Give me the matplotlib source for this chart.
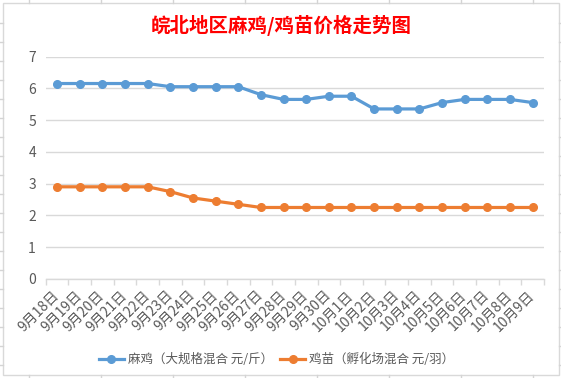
import matplotlib
matplotlib.use("Agg")
import matplotlib.pyplot as plt
from matplotlib.lines import Line2D
from matplotlib.patches import Rectangle

plt.rcParams['font.family'] = ['Noto Sans CJK SC', 'DejaVu Sans']

title = "皖北地区麻鸡/鸡苗价格走势图"
dates = ["9月18日", "9月19日", "9月20日", "9月21日", "9月22日", "9月23日", "9月24日",
         "9月25日", "9月26日", "9月27日", "9月28日", "9月29日", "9月30日", "10月1日",
         "10月2日", "10月3日", "10月4日", "10月5日", "10月6日", "10月7日", "10月8日", "10月9日"]
majiu = [6.15, 6.15, 6.15, 6.15, 6.15, 6.05, 6.05, 6.05, 6.05, 5.8, 5.65,
         5.65, 5.75, 5.75, 5.35, 5.35, 5.35, 5.55, 5.65, 5.65, 5.65, 5.55]
jimiao = [2.9, 2.9, 2.9, 2.9, 2.9, 2.75, 2.55, 2.45, 2.35, 2.25, 2.25,
          2.25, 2.25, 2.25, 2.25, 2.25, 2.25, 2.25, 2.25, 2.25, 2.25, 2.25]
series_names = ["麻鸡（大规格混合 元/斤）", "鸡苗（孵化场混合 元/羽）"]
yticks = [0, 1, 2, 3, 4, 5, 6, 7]

W, H = 561, 378
fig = plt.figure(figsize=(W / 100, H / 100), dpi=100)
fig.patch.set_facecolor("white")

# spreadsheet gridline stubs outside the chart box
sc = "#d4d4d4"
for k in range(8):
    x = (28.6 + 72 * k) / W
    fig.add_artist(Line2D([x, x], [1, 1 - 3 / H], color=sc, lw=1))
    fig.add_artist(Line2D([x, x], [0, 3 / H], color=sc, lw=1))
for k in range(19):
    y = 1 - (23.3 + 19 * k) / H
    fig.add_artist(Line2D([0, 3 / W], [y, y], color=sc, lw=1))
    fig.add_artist(Line2D([1 - 2 / W, 1], [y, y], color=sc, lw=1))

# chart border
fig.add_artist(Rectangle((3 / W, 3 / H), (559 - 3) / W, (375 - 3) / H,
                         fill=False, edgecolor="#d9d9d9", lw=1))

ax = fig.add_axes([45.7 / W, 1 - 279 / H, (544 - 45.7) / W, (279 - 56.5) / H])
x = list(range(len(dates)))
blue, orange = "#5b9bd5", "#ed7d31"
ax.plot(x, majiu, color=blue, lw=2.3, marker="o", ms=5.5, label=series_names[0], zorder=3)
ax.plot(x, jimiao, color=orange, lw=2.3, marker="o", ms=5.5, label=series_names[1], zorder=3)

ax.set_xlim(-0.5, len(dates) - 0.5)
ax.set_ylim(0, 7)
ax.set_yticks(yticks)
ax.set_yticklabels([str(v) for v in yticks])
ax.grid(axis="y", color="#d9d9d9", lw=1)
ax.set_axisbelow(True)
for s in ["top", "right", "left"]:
    ax.spines[s].set_visible(False)
ax.spines["bottom"].set_color("#d9d9d9")
ax.spines["bottom"].set_linewidth(1)
ax.tick_params(axis="y", length=0, pad=7, labelsize=10, labelcolor="#595959")

ax.set_xticks(x)
ax.set_xticklabels(dates, rotation=45, ha="right", va="center", rotation_mode="anchor",
                   fontsize=10, color="#595959")
ax.tick_params(axis="x", length=0, pad=10)
ax.set_xticks([i - 0.5 for i in range(len(dates) + 1)], minor=True)
ax.tick_params(axis="x", which="minor", length=4, color="#d9d9d9", width=1)

fig.text(281 / W, 1 - 25 / H, title, color="#ff0000", fontsize=14, fontweight="bold",
         ha="center", va="center")

fig.legend(loc="center", bbox_to_anchor=(276.5 / W, 1 - 359.5 / H), ncol=2, frameon=False,
           fontsize=9, labelcolor="#595959", handlelength=2.0, columnspacing=0.6,
           handletextpad=0.3)

fig.savefig("out.png", dpi=100)
